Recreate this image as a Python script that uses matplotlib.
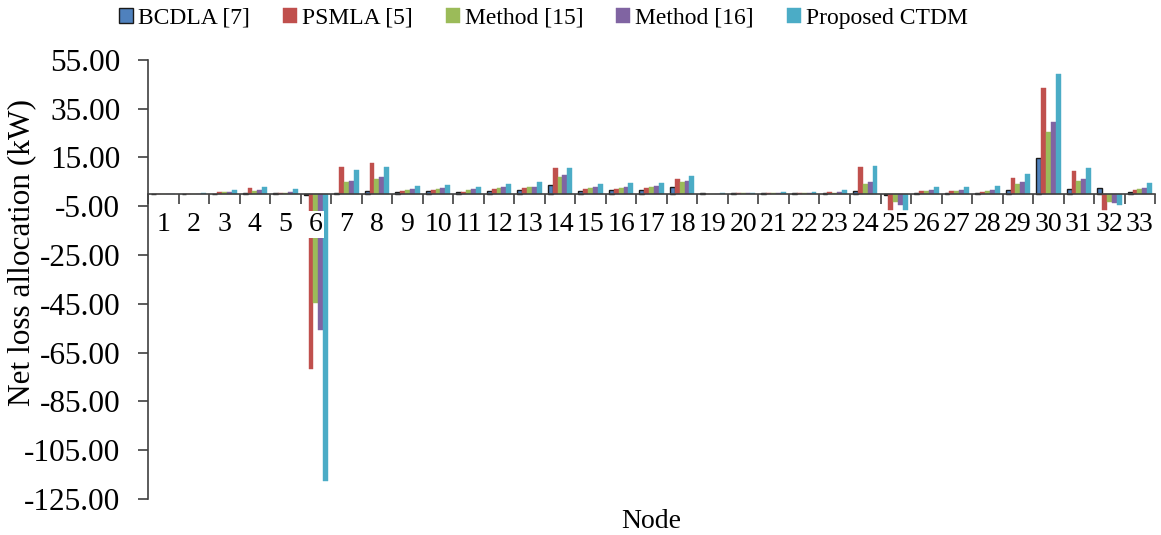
import matplotlib.pyplot as plt
import numpy as np

plt.rcParams['font.family'] = ['Liberation Serif', 'DejaVu Serif']

nodes = list(range(1, 34))

bcdla = [0.0, 0.2, 0.2, 0.4, 0.3, -0.4, 0.4, 1.4, 0.8, 1.1,
         0.8, 1.2, 1.6, 3.7, 1.2, 1.6, 1.8, 2.9, 0.3, 0.4,
         0.4, 0.5, 0.3, 1.1, -0.2, 0.3, 0.3, 0.3, 1.6, 14.9,
         1.9, 2.6, 1.0]
psmla = [0.0, 0.1, 0.9, 2.5, 0.6, -71.7, 10.9, 12.7, 1.4, 1.8,
         1.0, 2.0, 2.5, 10.5, 2.0, 2.2, 2.3, 6.0, 0.1, 0.3,
         0.4, 0.4, 0.7, 11.1, -6.4, 1.1, 1.1, 1.0, 6.4, 43.3,
         9.3, -6.6, 1.6]
method15 = [0.0, 0.1, 0.7, 1.4, 0.6, -44.7, 4.8, 6.1, 1.8, 2.2,
            1.6, 2.5, 2.9, 6.8, 2.5, 2.6, 2.9, 5.1, 0.1, 0.3,
            0.4, 0.4, 0.5, 4.2, -3.1, 1.2, 1.2, 1.2, 4.1, 25.5,
            5.3, -3.1, 2.2]
method16 = [0.0, 0.1, 0.7, 1.6, 0.8, -55.7, 5.5, 6.8, 2.0, 2.5,
            2.0, 2.7, 3.1, 7.8, 2.7, 3.0, 3.3, 5.5, 0.1, 0.3,
            0.5, 0.4, 0.7, 4.8, -4.5, 1.5, 1.5, 1.5, 4.8, 29.6,
            6.1, -3.8, 2.5]
ctdm = [0.0, 0.3, 1.6, 3.0, 1.9, -117.5, 9.8, 11.2, 3.4, 3.7,
        3.1, 4.2, 4.8, 10.5, 4.2, 4.6, 4.6, 7.4, 0.3, 0.5,
        0.8, 0.8, 1.6, 11.5, -6.4, 2.7, 2.9, 3.3, 8.1, 49.3,
        10.8, -4.6, 4.4]

series = [bcdla, psmla, method15, method16, ctdm]
names = ['BCDLA [7]', 'PSMLA [5]', 'Method [15]', 'Method [16]', 'Proposed CTDM']
colors = ['#4F81BD', '#C0504D', '#9BBB59', '#8064A2', '#4BACC6']
edges = ['#1a1a1a', '#C0504D', '#9BBB59', '#8064A2', '#4BACC6']

fig = plt.figure(figsize=(11.61, 5.35), dpi=100)
ax = fig.add_axes([0.1275, 0.0673, 0.8675, 0.8207])

x = np.arange(1, 34)
w = 0.16
handles = []
for i, (vals, nm, c, ec) in enumerate(zip(series, names, colors, edges)):
    lw = 1.0 if i == 0 else 0.3
    b = ax.bar(x + (i - 2) * w, vals, w, color=c, edgecolor=ec, linewidth=lw,
               label=nm, zorder=1)
    handles.append(b)

ax.set_xlim(0.5, 33.5)
ax.set_ylim(-125, 55)
ax.set_yticks(np.arange(-125, 56, 20))
ax.set_yticklabels(['%.2f' % v for v in np.arange(-125, 56, 20)], fontsize=22.5)

# category labels sit under the zero line, boundary ticks between groups
ax.spines['bottom'].set_position(('data', 0))
ax.set_xticks(x)
ax.set_xticklabels([str(n) for n in nodes], fontsize=20)
ax.set_xticks(np.arange(0.5, 34, 1), minor=True)
ax.tick_params(axis='x', which='major', length=0, pad=13)
ax.tick_params(axis='x', which='minor', length=7, width=1.2, color='#404040',
               direction='out')
ax.tick_params(axis='y', length=7, width=1.2, color='#404040', pad=13)
for lab in ax.get_xticklabels():
    lab.set_bbox(dict(facecolor='white', edgecolor='none', pad=0.5))

for s in ['top', 'right']:
    ax.spines[s].set_visible(False)
for s in ['left', 'bottom']:
    ax.spines[s].set_color('#404040')
    ax.spines[s].set_linewidth(1.2)

fig.text(22 / 1161, 1 - 252 / 535, 'Net loss allocation (kW)', rotation=90,
         ha='center', va='center', fontsize=22.5)
fig.text(651 / 1161, 1 - 522 / 535, 'Node', ha='center', va='center', fontsize=20)

fig.legend(handles=handles, loc='upper center', bbox_to_anchor=(0.468, 1.025),
           ncol=5, frameon=False, fontsize=17, handlelength=0.6,
           handleheight=0.6, handletextpad=0.2, columnspacing=1.4)

fig.savefig('out.png', dpi=100)
